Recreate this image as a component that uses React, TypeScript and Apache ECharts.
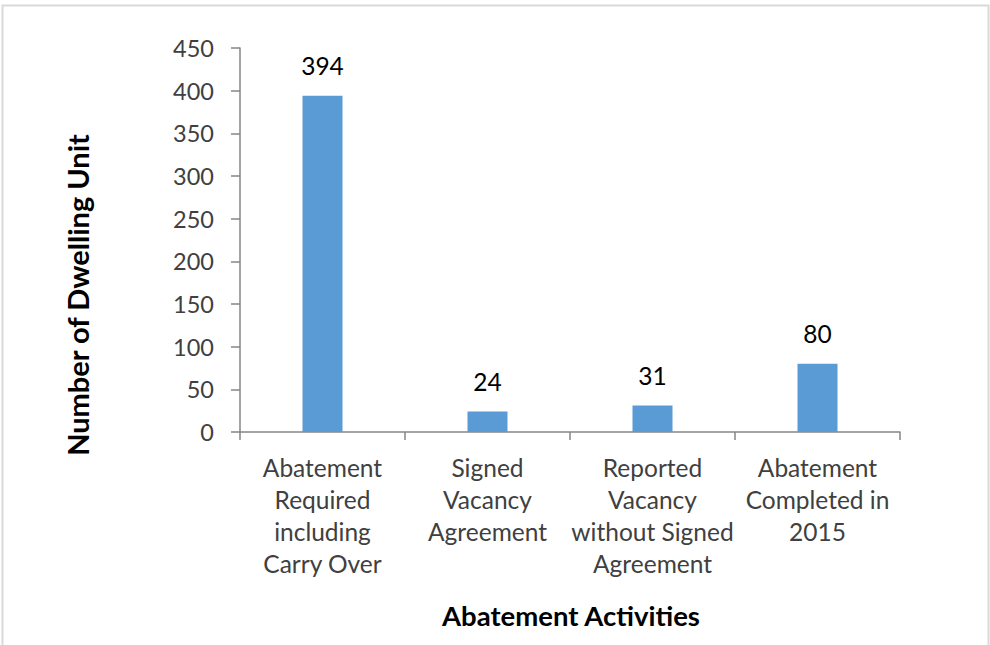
import React, { useEffect, useRef } from "react";
import * as echarts from "echarts";

const categories: string[] = [
  "Abatement\nRequired\nincluding\nCarry Over",
  "Signed\nVacancy\nAgreement",
  "Reported\nVacancy\nwithout Signed\nAgreement",
  "Abatement\nCompleted in\n2015",
];
const values: number[] = [394, 24, 31, 80];
const yTitle = "Number of Dwelling Unit";
const xTitle = "Abatement Activities";

const FONT = "Lato";

export default function App() {
  const ref = useRef<HTMLDivElement>(null);
  useEffect(() => {
    if (!ref.current) return;
    const chart = echarts.init(ref.current, null, { renderer: "svg" });
    chart.setOption({
      animation: false,
      backgroundColor: "#ffffff",
      textStyle: { fontFamily: FONT },
      grid: { left: 240, right: 90, top: 48, bottom: 213 },
      xAxis: {
        type: "category",
        data: categories,
        axisLine: { lineStyle: { color: "#868686", width: 1.5 } },
        axisTick: { show: true, length: 8, lineStyle: { color: "#868686", width: 1.5 } },
        axisLabel: {
          color: "#404040",
          fontFamily: FONT,
          fontSize: 24.5,
          lineHeight: 32,
          margin: 19,
          interval: 0,
        },
      },
      yAxis: {
        type: "value",
        min: 0,
        max: 450,
        interval: 50,
        splitLine: { show: false },
        axisLine: { show: true, lineStyle: { color: "#868686", width: 1.5 } },
        axisTick: { show: true, length: 9, lineStyle: { color: "#868686", width: 1.5 } },
        axisLabel: { color: "#404040", fontFamily: FONT, fontSize: 23.5, margin: 26 },
      },
      series: [
        {
          type: "bar",
          data: values,
          barWidth: 40,
          itemStyle: { color: "#5B9BD5" },
          label: {
            show: true,
            position: "top",
            distance: 18,
            color: "#000000",
            fontFamily: FONT,
            fontSize: 24.5,
          },
        },
      ],
      graphic: [
        {
          type: "rect",
          shape: { x: 2.5, y: 5.5, width: 986, height: 660 },
          style: { fill: "none", stroke: "#d9d9d9", lineWidth: 2 },
          silent: true,
        },
        {
          type: "text",
          x: 77,
          y: 295,
          rotation: Math.PI / 2,
          style: {
            text: yTitle,
            fill: "#000000",
            font: `bold 29px ${FONT}`,
            align: "center",
            verticalAlign: "middle",
          },
        },
        {
          type: "text",
          x: 571,
          y: 615,
          style: {
            text: xTitle,
            fill: "#000000",
            font: `bold 27.5px ${FONT}`,
            align: "center",
            verticalAlign: "middle",
          },
        },
      ],
    });
    return () => chart.dispose();
  }, []);
  return (
    <div
      ref={ref}
      style={{ position: "fixed", left: 0, top: 0, width: 990, height: 645 }}
    />
  );
}
